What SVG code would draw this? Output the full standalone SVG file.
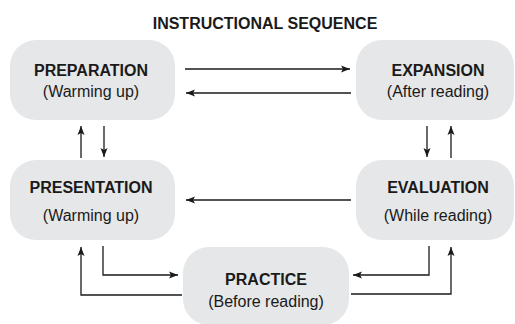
<svg xmlns="http://www.w3.org/2000/svg" width="515" height="324" viewBox="0 0 515 324">
<style>
.box{fill:#e6e7e8;stroke:none}
.t{font-family:"Liberation Sans",Arial,sans-serif;font-size:16px;fill:#1a1a1a;text-anchor:middle}
.b{font-weight:bold}
.c{fill:none;stroke:#1a1a1a;stroke-width:1.3}
</style>
<defs>
<marker id="ah" markerUnits="userSpaceOnUse" markerWidth="10" markerHeight="8" refX="9" refY="4" orient="auto">
<path d="M0,0.5 L9,4 L0,7.5 L2,4 Z" fill="#1a1a1a"/>
</marker>
</defs>
<text class="t b" x="265" y="29">INSTRUCTIONAL SEQUENCE</text>
<g id="preparation">
<rect class="box" x="10" y="40" width="165" height="80" rx="26"/>
<text class="t b" x="91" y="76">PREPARATION</text>
<text class="t" x="91" y="97">(Warming up)</text>
</g>
<g id="expansion">
<rect class="box" x="356" y="40" width="158" height="80" rx="26"/>
<text class="t b" x="438" y="76">EXPANSION</text>
<text class="t" x="438" y="97">(After reading)</text>
</g>
<g id="presentation">
<rect class="box" x="10" y="160" width="165" height="80" rx="26"/>
<text class="t b" x="91" y="193">PRESENTATION</text>
<text class="t" x="91" y="221">(Warming up)</text>
</g>
<g id="evaluation">
<rect class="box" x="356" y="160" width="158" height="80" rx="26"/>
<text class="t b" x="438" y="193">EVALUATION</text>
<text class="t" x="438" y="221">(While reading)</text>
</g>
<g id="practice">
<rect class="box" x="183" y="247" width="166" height="78" rx="26"/>
<text class="t b" x="266" y="285">PRACTICE</text>
<text class="t" x="266" y="307">(Before reading)</text>
</g>
<g id="connectors">
<path class="c" d="M185,69 H350" marker-end="url(#ah)"/>
<path class="c" d="M351,93 H186" marker-end="url(#ah)"/>
<path class="c" d="M81,158 V126" marker-end="url(#ah)"/>
<path class="c" d="M104,126 V157" marker-end="url(#ah)"/>
<path class="c" d="M427,126 V157" marker-end="url(#ah)"/>
<path class="c" d="M451,158 V126" marker-end="url(#ah)"/>
<path class="c" d="M351,200 H186" marker-end="url(#ah)"/>
<path class="c" d="M103,246 V275 H178" marker-end="url(#ah)"/>
<path class="c" d="M182,295 H81 V247" marker-end="url(#ah)"/>
<path class="c" d="M429,246 V275 H353" marker-end="url(#ah)"/>
<path class="c" d="M351,294 H451 V247" marker-end="url(#ah)"/>
</g>
</svg>
